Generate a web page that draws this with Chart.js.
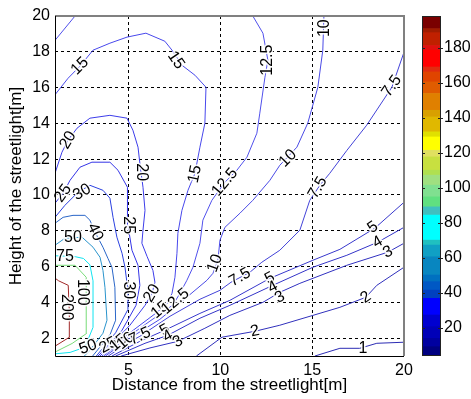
<!DOCTYPE html>
<html>
<head>
<meta charset="utf-8">
<script src="https://cdn.jsdelivr.net/npm/chart.js@4.4.1/dist/chart.umd.min.js"></script>
<style>
  body { margin: 0; background: #fff; }
  #wrap { position: relative; width: 471px; height: 399px; }
  canvas { position: absolute; top: 0; }
</style>
</head>
<body>
<div id="wrap">
  <canvas id="main" width="471" height="399" style="left:0"></canvas>
  <canvas id="cbar" width="61" height="399" style="left:410px"></canvas>
</div>
<script>
// axis ticks
var xTicks = [5, 10, 15, 20];
var yTicks = [2, 4, 6, 8, 10, 12, 14, 16, 18, 20];
var cbTicks = [20, 40, 60, 80, 100, 120, 140, 160, 180];

// contour lines [distance, height]
var c1 = [[15.15,1.0],[16.51,1.43],[17.59,1.43],[18.52,1.71],[20,1.77]];
var c2 = [[8.7,1.0],[10.09,2.05],[11.88,2.38],[13.24,2.72],[15.04,3.27],[16.51,3.72],[17.92,4.28],[18.52,4.95],[20,5.96]];
var c3 = [[4.6,1.0],[6.17,1.45],[7.69,1.82],[9.16,2.55],[10.52,3.27],[12.32,4.0],[13.24,4.56],[14.33,5.06],[16.89,6.07],[19.12,6.8],[20,7.3]];
var c4 = [[4.3,1.0],[5.9,1.71],[7.15,2.16],[8.89,3.11],[10.52,3.83],[12.86,4.95],[15.04,5.96],[16.89,6.63],[18.57,7.36],[20,8.19]];
var c5 = [[4.1,1.0],[5.62,1.82],[6.98,2.44],[8.89,3.38],[10.52,4.11],[12.7,5.34],[15.04,6.35],[16.51,6.96],[18.41,8.14],[20,9.59]];
var c7_5 = [[3.9,1.0],[5.08,1.8],[5.62,2.1],[7.26,3.22],[8.89,4.17],[9.98,4.67],[10.58,5.12],[11.61,5.68],[12.26,6.24],[13.24,6.91],[14.33,8.03],[14.87,9.7],[15.42,10.54],[15.96,11.21],[16.89,12.49],[17.97,13.9],[19.34,16.02],[20,17.98]];
var c10 = [[3.75,1.0],[5.08,2.0],[6.71,3.05],[7.96,4.1],[9.27,5.23],[9.6,5.62],[9.87,6.35],[9.98,7.47],[10.25,8.19],[11.07,8.98],[11.77,9.7],[12.7,10.82],[13.24,11.66],[14.17,12.67],[14.76,14.01],[15.31,16.02],[15.58,18.09],[15.64,20]];
var c12_5 = [[3.65,1.0],[5.08,2.15],[6.17,2.95],[7.42,3.85],[7.8,4.5],[8.18,5.23],[8.51,5.96],[8.89,7.3],[9.05,8.59],[9.54,9.7],[10.25,10.71],[10.9,11.38],[11.45,12.11],[11.99,13.45],[12.15,14.57],[12.43,16.58],[12.59,17.53],[12.32,19.04],[11.77,20]];
var c12_5b = [[1.0,18.64],[2.09,20]];
var c15 = [[3.55,1.0],[5.08,2.3],[6.5,3.4],[7.09,3.9],[7.37,4.5],[7.53,5.4],[7.64,6.74],[7.69,7.86],[7.91,9.14],[8.24,10.26],[8.62,11.21],[8.89,12.67],[9.16,14.01],[9.22,16.02],[8.62,16.69],[7.91,17.25],[7.37,18.09],[6.98,18.59],[5.95,19.04],[4.92,18.82],[3.99,18.48],[3.07,18.09],[2.36,17.2],[1.71,16.52],[1.0,15.6]];
var c20 = [[3.45,1.0],[5.08,2.72],[5.9,3.83],[6.28,4.5],[6.44,5.12],[6.33,5.79],[6.01,6.57],[5.73,7.3],[5.79,8.03],[5.9,9.14],[5.79,10.43],[5.62,11.77],[5.52,12.67],[5.24,13.62],[4.92,14.29],[3.99,14.45],[2.9,14.29],[2.2,13.73],[1.71,13.06],[1.38,12.39],[1.0,11.21]];
var c25 = [[3.35,1.0],[4.65,2.44],[5.41,3.83],[5.62,4.95],[5.52,6.07],[5.19,6.91],[4.97,8.31],[4.97,9.42],[4.92,10.43],[4.43,11.38],[3.99,11.83],[3.01,11.83],[2.36,11.55],[1.82,10.82],[1.44,10.09],[1.0,9.54]];
var c30 = [[3.25,1.0],[4.3,2.3],[4.97,3.6],[4.97,4.67],[4.81,5.96],[4.65,6.74],[4.37,7.64],[4.16,8.75],[3.99,9.82],[3.61,10.26],[2.9,10.54],[2.25,10.15],[1.54,9.42],[1.0,8.75]];
var c40 = [[3.05,1.0],[4.0,2.2],[4.3,3.0],[4.26,4.84],[4.1,5.96],[3.88,6.46],[3.61,7.08],[3.18,7.92],[2.9,8.59],[2.63,8.86],[1.98,8.86],[1.44,8.75],[1.0,8.42]];
var c50 = [[2.6,1.0],[2.9,1.32],[3.61,2.27],[3.83,3.0],[3.72,4.84],[3.61,5.79],[3.45,6.52],[3.07,7.08],[2.47,7.64],[1.54,7.58],[1.0,7.19]];
var c75 = [[1.0,1.12],[1.82,1.2],[2.63,1.49],[3.07,2.6],[3.07,5.2],[2.9,6.1],[2.55,6.45],[2.1,6.55],[1.55,6.58],[1.0,6.6]];
var c100 = [[1.0,1.22],[1.93,1.7],[2.72,2.26],[2.71,4.1],[2.69,5.4],[2.09,6.07],[1.0,6.07]];
var c200 = [[1.0,1.55],[1.8,2.06],[1.78,3.5],[1.72,4.95],[1.2,5.2],[1.0,5.35]];

var contourLines = [c1, c2, c3, c4, c5, c7_5, c10, c12_5, c12_5b, c15, c20, c25, c30, c40, c50, c75, c100, c200];
var contourColors = ['#2c2cb4', '#3030bc', '#3030c0', '#3434c8', '#3838cc', '#4242d8', '#4a4ae6', '#5050ec', '#5050ec', '#4848ec', '#3c3cea', '#3434e6', '#2a40e0', '#2a66c8', '#2a94cc', '#10e4f0', '#78dc78', '#a02828'];

// inline contour labels: text, distance, height, angle
var contourLabels = [
  ['15', 2.36, 17.2, -45], ['15', 7.58, 17.53, 55], ['15', 8.62, 11.16, -78], ['15', 6.71, 3.58, -40],
  ['12.5', 12.59, 17.53, -90], ['12.5', 10.25, 10.71, -50], ['12.5', 7.55, 4.05, -40],
  ['10', 15.69, 19.32, -90], ['10', 13.68, 12.05, -45], ['10', 9.71, 6.18, -70],
  ['7.5', 19.34, 16.08, -55], ['7.5', 15.31, 10.4, -60], ['7.5', 11.07, 5.4, -30],
  ['5', 18.3, 8.19, -35], ['4', 18.57, 7.36, -30], ['3', 19.12, 6.8, -25],
  ['5', 12.7, 5.34, -28], ['4', 12.86, 4.84, -28], ['3', 13.24, 4.28, -28],
  ['5', 6.98, 2.44, -30], ['4', 7.15, 2.1, -30], ['3', 7.69, 1.8, -30],
  ['2', 11.88, 2.38, -12], ['2', 17.92, 4.28, -35], ['1', 17.76, 1.4, 0],
  ['20', 1.71, 13.06, -60], ['20', 5.68, 11.27, 90], ['20', 6.28, 4.5, -60],
  ['25', 1.44, 10.09, -55], ['25', 4.97, 8.31, 90], ['25', 3.9, 1.6, -30],
  ['30', 2.47, 10.15, -30], ['30', 4.97, 4.67, 90],
  ['40', 3.18, 7.92, 65], ['50', 1.98, 7.64, 0], ['50', 2.8, 1.5, -20],
  ['75', 1.54, 6.57, 0], ['100', 2.47, 4.56, 90], ['200', 1.6, 3.72, 90],
  ['15', 4.45, 1.75, -40], ['10', 4.85, 1.85, -40], ['7.5', 5.62, 2.1, -25]
];

// colorbar bands
var cbMin = 4, cbMax = 198;
var bandEdges = [4, 9.3, 14.1, 20.7, 27.4, 36.9, 41.6, 46.4, 50.2, 60.6, 67.3, 70.1, 84.4, 89.1, 94.8, 101.5, 107.2, 110, 117.6, 121.4, 129, 131.9, 140.4, 144.2, 153.8, 160.4, 166.1, 168.9, 178.5, 181.1, 188.5, 190.8, 198];
var bandColors = ['#000080', '#0000a0', '#0000b8', '#0000d0', '#0000ff', '#0040c0', '#0058c4', '#0070c0', '#0886c0', '#10a0c4', '#20c0c0', '#00ffff', '#40c0c0', '#60e080', '#80e090', '#a0e080', '#b0e050', '#c8e040', '#e0e060', '#ffff00', '#e0e000', '#e0b800', '#d8a000', '#e08000', '#e05c00', '#e04400', '#e02c10', '#ff0000', '#e01010', '#c02000', '#a01c00', '#7a0000'];

var fam = '"Liberation Sans", Arial, Helvetica, sans-serif';

var labelPlugin = {
  id: 'clabels',
  afterDatasetsDraw: function(chart) {
    var ctx = chart.ctx, xs = chart.scales.x, ys = chart.scales.y;
    ctx.save();
    ctx.font = '16px ' + fam;
    ctx.textAlign = 'center';
    ctx.textBaseline = 'middle';
    ctx.lineJoin = 'round';
    contourLabels.forEach(function(l) {
      ctx.save();
      ctx.translate(xs.getPixelForValue(l[1]), ys.getPixelForValue(l[2]));
      ctx.rotate(l[3] * Math.PI / 180);
      ctx.strokeStyle = 'rgba(255,255,255,0.9)';
      ctx.lineWidth = 3;
      ctx.strokeText(l[0], 0, 0);
      ctx.fillStyle = '#000';
      ctx.fillText(l[0], 0, 0);
      ctx.restore();
    });
    ctx.restore();
  },
  afterDraw: function(chart) {
    var a = chart.chartArea, ctx = chart.ctx;
    ctx.save();
    ctx.strokeStyle = '#808080';
    ctx.lineWidth = 2;
    ctx.beginPath();
    ctx.moveTo(a.left, a.top);
    ctx.lineTo(a.right, a.top);
    ctx.lineTo(a.right, a.bottom);
    ctx.stroke();
    ctx.strokeStyle = '#000';
    ctx.lineWidth = 1;
    ctx.beginPath();
    ctx.moveTo(a.left + 0.5, a.top);
    ctx.lineTo(a.left + 0.5, a.bottom + 0.5);
    ctx.lineTo(a.right, a.bottom + 0.5);
    ctx.stroke();
    ctx.restore();
  }
};

var gridColor = function(c) {
  return (c.tick && c.tick.value === 20) ? 'rgba(0,0,0,0)' : '#000';
};

new Chart(document.getElementById('main'), {
  type: 'scatter',
  data: {
    datasets: contourLines.map(function(line, i) {
      return {
        data: line.map(function(p) { return {x: p[0], y: p[1]}; }),
        showLine: true,
        borderColor: contourColors[i],
        borderWidth: 1,
        pointRadius: 0,
        fill: false,
        tension: 0
      };
    })
  },
  options: {
    responsive: false,
    devicePixelRatio: 1,
    animation: false,
    events: [],
    layout: { padding: { left: 0, right: 67, top: 16, bottom: 0 } },
    plugins: { legend: { display: false }, tooltip: { enabled: false } },
    scales: {
      x: {
        type: 'linear', min: 1, max: 20,
        afterBuildTicks: function(s) { s.ticks = xTicks.map(function(v) { return {value: v}; }); },
        afterFit: function(s) { s.height = 43; },
        ticks: { font: { size: 16, family: fam }, color: '#000', padding: 5, maxRotation: 0, autoSkip: false },
        grid: { color: gridColor, lineWidth: 1, drawTicks: false },
        border: { display: false, dash: [3, 3] },
        title: { display: true, text: 'Distance from the streetlight[m]', font: { size: 17, family: fam }, color: '#000', padding: { top: 0, bottom: 3 } }
      },
      y: {
        type: 'linear', min: 1, max: 20,
        afterBuildTicks: function(s) { s.ticks = yTicks.map(function(v) { return {value: v}; }); },
        afterFit: function(s) { s.width = 55; },
        ticks: { font: { size: 16, family: fam }, color: '#000', padding: 5, autoSkip: false },
        grid: { color: gridColor, lineWidth: 1, drawTicks: false },
        border: { display: false, dash: [3, 3] },
        title: { display: true, text: 'Height of the streetlight[m]', font: { size: 17, family: fam }, color: '#000', padding: { top: 6, bottom: 0 } }
      }
    }
  },
  plugins: [labelPlugin]
});

var cbarPlugin = {
  id: 'cbox',
  afterDraw: function(chart) {
    var a = chart.chartArea, ctx = chart.ctx, ys = chart.scales.y;
    ctx.save();
    ctx.strokeStyle = '#222';
    ctx.lineWidth = 1;
    ctx.strokeRect(a.left + 0.5, a.top + 0.5, a.right - a.left - 1, a.bottom - a.top - 1);
    ctx.beginPath();
    cbTicks.forEach(function(v) {
      var y = Math.round(ys.getPixelForValue(v)) + 0.5;
      ctx.moveTo(a.left, y); ctx.lineTo(a.left + 3, y);
      ctx.moveTo(a.right - 3, y); ctx.lineTo(a.right + 2, y);
    });
    ctx.stroke();
    ctx.restore();
  }
};

new Chart(document.getElementById('cbar'), {
  type: 'bar',
  data: {
    labels: [''],
    datasets: bandColors.map(function(c, i) {
      return {
        data: [[bandEdges[i], bandEdges[i + 1]]],
        backgroundColor: c,
        borderWidth: 0,
        grouped: false,
        barPercentage: 1,
        categoryPercentage: 1
      };
    })
  },
  options: {
    responsive: false,
    devicePixelRatio: 1,
    animation: false,
    events: [],
    layout: { padding: { left: 12, right: 0, top: 16, bottom: 43 } },
    plugins: { legend: { display: false }, tooltip: { enabled: false } },
    scales: {
      x: { display: false },
      y: {
        position: 'right', min: cbMin, max: cbMax,
        afterBuildTicks: function(s) { s.ticks = cbTicks.map(function(v) { return {value: v}; }); },
        afterFit: function(s) { s.width = 30; },
        ticks: { font: { size: 16, family: fam }, color: '#000', padding: 3 },
        grid: { display: false, drawTicks: false },
        border: { display: false }
      }
    }
  },
  plugins: [cbarPlugin]
});
</script>
</body>
</html>
